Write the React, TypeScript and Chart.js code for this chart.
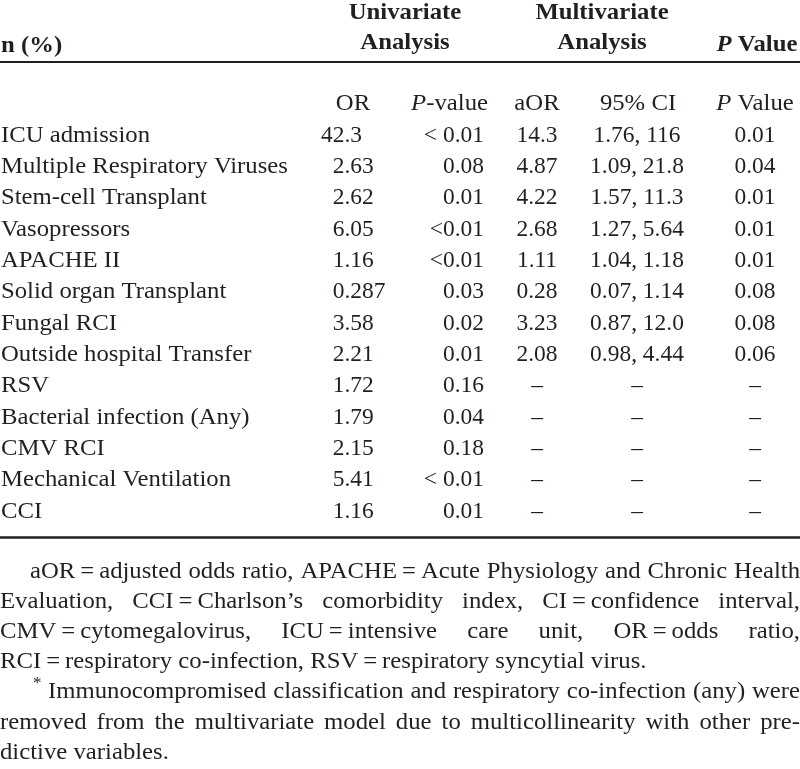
import React, { useEffect, useRef } from "react";
import { Chart, registerables } from "chart.js";

Chart.register(...registerables);

// ---------- DATA ----------
const variables = [
  "ICU admission",
  "Multiple Respiratory Viruses",
  "Stem-cell Transplant",
  "Vasopressors",
  "APACHE II",
  "Solid organ Transplant",
  "Fungal RCI",
  "Outside hospital Transfer",
  "RSV",
  "Bacterial infection (Any)",
  "CMV RCI",
  "Mechanical Ventilation",
  "CCI",
];
const univariateOR = ["42.3", "2.63", "2.62", "6.05", "1.16", "0.287", "3.58", "2.21", "1.72", "1.79", "2.15", "5.41", "1.16"];
const univariateP = ["< 0.01", "0.08", "0.01", "<0.01", "<0.01", "0.03", "0.02", "0.01", "0.16", "0.04", "0.18", "< 0.01", "0.01"];
const adjustedOR = ["14.3", "4.87", "4.22", "2.68", "1.11", "0.28", "3.23", "2.08", "–", "–", "–", "–", "–"];
const confidenceInterval = ["1.76, 116", "1.09, 21.8", "1.57, 11.3", "1.27, 5.64", "1.04, 1.18", "0.07, 1.14", "0.87, 12.0", "0.98, 4.44", "–", "–", "–", "–", "–"];
const multivariateP = ["0.01", "0.04", "0.01", "0.01", "0.01", "0.08", "0.08", "0.06", "–", "–", "–", "–", "–"];

// headers: _x_ marks italic
const columnHeaders = ["", "OR", "_P_-value", "aOR", "95% CI", "_P_ Value"];
const groupHeaderLine1 = ["", "Univariate", "Multivariate", ""];
const groupHeaderLine2 = ["n (%)", "Analysis", "Analysis", "_P_ Value"];

const footnoteLines = [
  "aOR\u2009=\u2009adjusted odds ratio, APACHE\u2009=\u2009Acute Physiology and Chronic Health",
  "Evaluation, CCI\u2009=\u2009Charlson\u2019s comorbidity index, CI\u2009=\u2009confidence interval,",
  "CMV\u2009=\u2009cytomegalovirus, ICU\u2009=\u2009intensive care unit, OR\u2009=\u2009odds ratio,",
  "RCI\u2009=\u2009respiratory co-infection, RSV\u2009=\u2009respiratory syncytial virus.",
  "Immunocompromised classification and respiratory co-infection (any) were",
  "removed from the multivariate model due to multicollinearity with other pre-",
  "dictive variables.",
];

// ---------- LAYOUT / STYLE ----------
const W = 800;
const H = 769;
const FONT_STACK = `"Liberation Serif", "Times New Roman", Times, serif`;
const FS = 23;
const INK = "#231f20";
const TEXT_SX = 1.075;
const NUM_SX = 1.02;
const ROW0_BASELINE = 141.6;
const ROW_PITCH = 31.35;

const bodyCols = [
  { x: 1, align: "left", sx: TEXT_SX },
  { x: 344.5, align: "decimal", sx: NUM_SX },
  { x: 484, align: "right", sx: NUM_SX },
  { x: 537, align: "center", sx: NUM_SX },
  { x: 637, align: "center", sx: NUM_SX },
  { x: 755, align: "center", sx: NUM_SX },
];
const headCols = [
  { x: 1, align: "left" },
  { x: 353, align: "center" },
  { x: 488, align: "right" },
  { x: 537, align: "center" },
  { x: 638, align: "center" },
  { x: 755, align: "center" },
];
const groupCols = [
  { x: 1, align: "left" },
  { x: 405, align: "center" },
  { x: 602, align: "center" },
  { x: 757, align: "center" },
];
const group1Baseline = 19;
const group2Baselines = [52, 49, 49, 51];
const topRuleY = 62;
const bottomRuleY = 537.5;
const footBaseline0 = 578;
const footPitch = 30.1;
const footSpec = [
  { start: 30, justify: true },
  { start: 0, justify: true },
  { start: 0, justify: true },
  { start: 0, justify: false },
  { start: 48, justify: true, star: 33 },
  { start: 0, justify: true },
  { start: 0, justify: false },
];

type Seg = { t: string; it: boolean };
function parse(s: string): Seg[] {
  const parts = s.split("_");
  const out: Seg[] = [];
  parts.forEach((p, i) => {
    if (p) out.push({ t: p, it: i % 2 === 1 });
  });
  return out;
}
function fontOf(bold: boolean, it: boolean, size = FS) {
  return `${it ? "italic " : ""}${bold ? "bold " : ""}${size}px ${FONT_STACK}`;
}
function drawRich(ctx: CanvasRenderingContext2D, s: string, x: number, y: number, align: string, sx: number, bold: boolean) {
  const segs = parse(s);
  const widths = segs.map((g) => {
    ctx.font = fontOf(bold, g.it);
    return ctx.measureText(g.t).width * sx;
  });
  const total = widths.reduce((a, b) => a + b, 0);
  let cx = x;
  if (align === "center") cx = x - total / 2;
  else if (align === "right") cx = x - total;
  segs.forEach((g, i) => {
    ctx.font = fontOf(bold, g.it);
    ctx.save();
    ctx.translate(cx, y);
    ctx.scale(sx, 1);
    ctx.fillText(g.t, 0, 0);
    ctx.restore();
    cx += widths[i];
  });
}
function drawCell(ctx: CanvasRenderingContext2D, s: string, x: number, y: number, align: string, sx: number) {
  if (align === "decimal") {
    const k = s.indexOf(".");
    if (k < 0) return drawRich(ctx, s, x, y, "center", sx, false);
    drawRich(ctx, s.slice(0, k), x, y, "right", sx, false);
    drawRich(ctx, s.slice(k), x, y, "left", sx, false);
    return;
  }
  drawRich(ctx, s, x, y, align, sx, false);
}
function drawLine(ctx: CanvasRenderingContext2D, s: string, start: number, end: number, y: number, justify: boolean) {
  ctx.font = fontOf(false, false);
  const words = s.split(" ");
  let sx = TEXT_SX;
  const raw = words.map((w) => ctx.measureText(w).width);
  const space = ctx.measureText(" ").width;
  const sum = raw.reduce((a, b) => a + b, 0);
  const natural = (sum + space * (words.length - 1)) * sx;
  if (natural > end - start) {
    sx = (end - start) / (sum + space * (words.length - 1));
  }
  let gap = space * sx;
  if (justify && words.length > 1) gap = (end - start - sum * sx) / (words.length - 1);
  let cx = start;
  words.forEach((w, i) => {
    ctx.save();
    ctx.translate(cx, y);
    ctx.scale(sx, 1);
    ctx.fillText(w, 0, 0);
    ctx.restore();
    cx += raw[i] * sx + gap;
  });
}

const bodyColumns = [variables, univariateOR, univariateP, adjustedOR, confidenceInterval, multivariateP];

const tablePlugin = {
  id: "tableText",
  afterDatasetsDraw(chart: any) {
    const ctx: CanvasRenderingContext2D = chart.ctx;
    ctx.save();
    ctx.fillStyle = INK;
    ctx.strokeStyle = INK;
    ctx.textBaseline = "alphabetic";
    ctx.textAlign = "left";
    groupHeaderLine1.forEach((t, i) => {
      if (t) drawRich(ctx, t, groupCols[i].x, group1Baseline, groupCols[i].align, TEXT_SX, true);
    });
    groupHeaderLine2.forEach((t, i) => {
      if (t) drawRich(ctx, t, groupCols[i].x, group2Baselines[i], groupCols[i].align, TEXT_SX, true);
    });
    ctx.lineWidth = 2;
    ctx.beginPath();
    ctx.moveTo(0, topRuleY);
    ctx.lineTo(W, topRuleY);
    ctx.stroke();
    ctx.lineWidth = 2.5;
    ctx.beginPath();
    ctx.moveTo(0, bottomRuleY);
    ctx.lineTo(W, bottomRuleY);
    ctx.stroke();
    chart.data.datasets.forEach((ds: any, di: number) => {
      const meta = chart.getDatasetMeta(di);
      meta.data.forEach((el: any, ri: number) => {
        const txt = ds.cellText[ri];
        if (!txt) return;
        if (ds.isHeader) drawRich(ctx, txt, el.x, el.y, headCols[ri].align, TEXT_SX, false);
        else drawCell(ctx, txt, el.x, el.y, bodyCols[di].align, bodyCols[di].sx);
      });
    });
    footnoteLines.forEach((line, i) => {
      const sp = footSpec[i];
      const y = footBaseline0 + footPitch * i;
      drawLine(ctx, line, sp.start, W, y, sp.justify);
      if (sp.star !== undefined) {
        ctx.font = fontOf(false, false, 17);
        ctx.fillText("*", sp.star, y - 10);
      }
    });
    ctx.restore();
  },
};

export default function App() {
  const ref = useRef<HTMLCanvasElement | null>(null);
  useEffect(() => {
    document.body.style.margin = "0";
    const canvas = ref.current!;
    let chart: any = null;
    let cancelled = false;
    const build = () => {
      if (cancelled) return;
      const yMin = -ROW0_BASELINE / ROW_PITCH;
      const yMax = yMin + H / ROW_PITCH;
      const datasets: any[] = bodyColumns.map((col, ci) => ({
        label: `col${ci}`,
        cellText: col,
        isHeader: false,
        data: col.map((_, ri) => ({ x: bodyCols[ci].x, y: ri })),
        pointRadius: 0,
        showLine: false,
      }));
      datasets.push({
        label: "header",
        cellText: columnHeaders,
        isHeader: true,
        data: columnHeaders.map((_, ci) => ({ x: headCols[ci].x, y: -1 })),
        pointRadius: 0,
        showLine: false,
      });
      chart = new Chart(canvas, {
        type: "scatter",
        data: { datasets },
        options: {
          animation: false,
          responsive: false,
          devicePixelRatio: 1,
          layout: { padding: 0 },
          events: [],
          plugins: { legend: { display: false }, tooltip: { enabled: false }, title: { display: false } },
          scales: {
            x: { type: "linear", min: 0, max: W, display: false },
            y: { type: "linear", min: yMin, max: yMax, reverse: true, display: false },
          },
        },
        plugins: [tablePlugin],
      } as any);
    };
    const fonts: any = (document as any).fonts;
    if (fonts && fonts.load) {
      Promise.all([
        fonts.load(`23px "Liberation Serif"`),
        fonts.load(`bold 23px "Liberation Serif"`),
        fonts.load(`italic 23px "Liberation Serif"`),
        fonts.load(`italic bold 23px "Liberation Serif"`),
      ])
        .catch(() => null)
        .then(build);
    } else build();
    return () => {
      cancelled = true;
      if (chart) chart.destroy();
    };
  }, []);
  return (
    <div style={{ width: W, height: H, background: "#fff", fontFamily: FONT_STACK }}>
      <span style={{ position: "absolute", left: -9999, fontFamily: `"Liberation Serif"` }}>
        a <b>b</b> <i>c</i> <b><i>d</i></b>
      </span>
      <canvas ref={ref} width={W} height={H} style={{ display: "block", width: W, height: H }} />
    </div>
  );
}
